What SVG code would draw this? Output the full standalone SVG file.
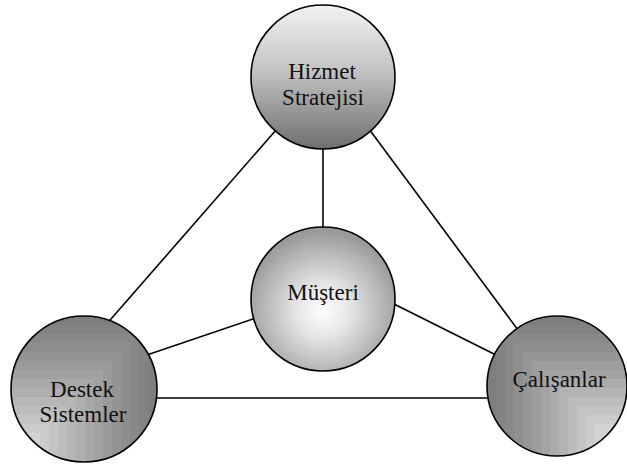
<svg xmlns="http://www.w3.org/2000/svg" width="627" height="468" viewBox="0 0 627 468">
  <style>
    .link { stroke: #000; stroke-width: 1.6; fill: none; }
    .ring { fill: none; stroke: #000; stroke-width: 1.6; }
    .label { font-family: "Liberation Serif", "Times New Roman", serif; font-size: 23px; fill: #111; text-anchor: middle; }
  </style>
  <defs>
    <linearGradient id="gTop" x1="0" y1="0" x2="0" y2="1">
      <stop offset="0" stop-color="#f2f2f2"/>
      <stop offset="0.45" stop-color="#c4c4c4"/>
      <stop offset="1" stop-color="#6e6e6e"/>
    </linearGradient>
    <radialGradient id="gMid" cx="0.5" cy="0.58" r="0.55">
      <stop offset="0" stop-color="#ffffff"/>
      <stop offset="0.35" stop-color="#e4e4e4"/>
      <stop offset="1" stop-color="#9a9a9a"/>
    </radialGradient>
    <clipPath id="clipBL"><circle cx="84" cy="389" r="73"/></clipPath>
    <clipPath id="clipBR"><circle cx="557" cy="386" r="70"/></clipPath>
  </defs>

  <g id="connectors">
    <line class="link" x1="323" y1="145" x2="323" y2="231"/>
    <line class="link" x1="276" y1="130" x2="104" y2="327"/>
    <line class="link" x1="369" y1="129" x2="518" y2="330"/>
    <line class="link" x1="256" y1="318" x2="138" y2="358"/>
    <line class="link" x1="392" y1="303" x2="496" y2="355"/>
    <line class="link" x1="150" y1="398" x2="495" y2="398"/>
  </g>

  <g id="hizmet-stratejisi">
    <circle cx="323" cy="77" r="72" fill="url(#gTop)" stroke="#000" stroke-width="1.6"/>
    <text class="label" x="322" y="79" font-family="Liberation Serif, serif">Hizmet</text>
    <text class="label" x="323" y="105" font-family="Liberation Serif, serif">Stratejisi</text>
  </g>

  <g id="musteri">
    <circle cx="323" cy="299" r="72" fill="url(#gMid)" stroke="#000" stroke-width="1.6"/>
    <text class="label" x="323" y="300" font-family="Liberation Serif, serif">Müşteri</text>
  </g>

  <g id="destek-sistemler">
    <!-- stepped square bands growing from the lower-left corner -->
    <g clip-path="url(#clipBL)">
      <rect x="11" y="316" width="146" height="146" fill="#7e7e7e"/>
      <rect x="11" y="325" width="137" height="137" fill="#838383"/>
      <rect x="11" y="334" width="128" height="128" fill="#888888"/>
      <rect x="11" y="343" width="119" height="119" fill="#8e8e8e"/>
      <rect x="11" y="352" width="110" height="110" fill="#949494"/>
      <rect x="11" y="361" width="101" height="101" fill="#9a9a9a"/>
      <rect x="11" y="370" width="92" height="92" fill="#a1a1a1"/>
      <rect x="11" y="379" width="83" height="83" fill="#a8a8a8"/>
      <rect x="11" y="388" width="74" height="74" fill="#afafaf"/>
      <rect x="11" y="397" width="65" height="65" fill="#b6b6b6"/>
      <rect x="11" y="406" width="56" height="56" fill="#bdbdbd"/>
      <rect x="11" y="415" width="47" height="47" fill="#c4c4c4"/>
      <rect x="11" y="424" width="38" height="38" fill="#cbcbcb"/>
      <rect x="11" y="433" width="29" height="29" fill="#d2d2d2"/>
      <rect x="11" y="442" width="20" height="20" fill="#d8d8d8"/>
    </g>
    <circle class="ring" cx="84" cy="389" r="73"/>
    <text class="label" x="82" y="397" font-family="Liberation Serif, serif">Destek</text>
    <text class="label" x="83" y="422" font-family="Liberation Serif, serif">Sistemler</text>
  </g>

  <g id="calisanlar">
    <!-- stepped square bands growing from the lower-right corner -->
    <g clip-path="url(#clipBR)">
      <rect x="487" y="316" width="140" height="140" fill="#7e7e7e"/>
      <rect x="496" y="325" width="131" height="131" fill="#838383"/>
      <rect x="505" y="334" width="122" height="122" fill="#898989"/>
      <rect x="514" y="343" width="113" height="113" fill="#8f8f8f"/>
      <rect x="523" y="352" width="104" height="104" fill="#969696"/>
      <rect x="532" y="361" width="95" height="95" fill="#9d9d9d"/>
      <rect x="541" y="370" width="86" height="86" fill="#a4a4a4"/>
      <rect x="550" y="379" width="77" height="77" fill="#acacac"/>
      <rect x="559" y="388" width="68" height="68" fill="#b4b4b4"/>
      <rect x="568" y="397" width="59" height="59" fill="#bcbcbc"/>
      <rect x="577" y="406" width="50" height="50" fill="#c4c4c4"/>
      <rect x="586" y="415" width="41" height="41" fill="#cbcbcb"/>
      <rect x="595" y="424" width="32" height="32" fill="#d2d2d2"/>
      <rect x="604" y="433" width="23" height="23" fill="#d9d9d9"/>
    </g>
    <circle class="ring" cx="557" cy="386" r="70"/>
    <text class="label" x="559" y="387" font-family="Liberation Serif, serif">Çalışanlar</text>
  </g>
</svg>
